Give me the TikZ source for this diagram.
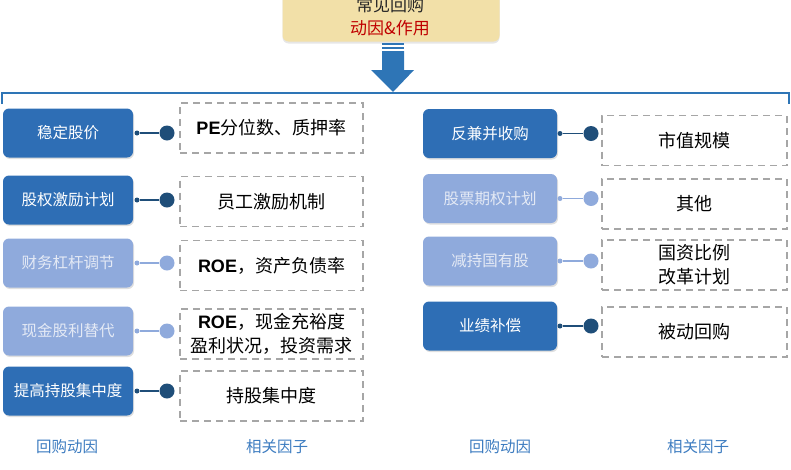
\documentclass[tikz,border=0pt]{standalone}
\usepackage{fontspec}
\setmainfont{Liberation Sans}
\newfontfamily\cjk{Noto Sans CJK SC}
\newfontfamily\lat{Liberation Sans}
\usetikzlibrary{shadows}
\definecolor{dkblue}{HTML}{2E6EB5}
\definecolor{ltblue}{HTML}{8FAADC}
\definecolor{dkdot}{HTML}{1F4E79}
\definecolor{ltdot}{HTML}{8FAADC}
\definecolor{lttxt}{HTML}{E4EAF5}
\definecolor{dashgray}{HTML}{A6A6A6}
\definecolor{arrowblue}{HTML}{2E75B6}
\definecolor{topfill}{HTML}{F2E0A8}
\definecolor{redtxt}{HTML}{C00000}
\definecolor{labblue}{HTML}{3D7CC0}
\tikzset{
  motiv/.style={rounded corners=6pt, minimum height=49pt, inner sep=0pt,
    font=\cjk\fontsize{15.5}{18}\selectfont,
    drop shadow={opacity=0.25, shadow xshift=1pt, shadow yshift=-1.5pt}},
  darkbox/.style={motiv, fill=dkblue, text=white},
  lightbox/.style={motiv, fill=ltblue, text=lttxt},
  factor/.style={draw=dashgray, dash pattern=on 7pt off 5pt, line width=1.4pt,
    minimum height=50pt, inner sep=0pt, align=center,
    font=\cjk\fontsize{18}{24}\selectfont},
  smalldk/.style={circle, fill=dkdot, minimum size=5pt, inner sep=0pt},
  bigdk/.style={circle, fill=dkdot, minimum size=15pt, inner sep=0pt},
  smalllt/.style={circle, fill=ltdot, minimum size=5pt, inner sep=0pt},
  biglt/.style={circle, fill=ltdot, minimum size=15pt, inner sep=0pt},
  conndk/.style={draw=dkdot, line width=1.3pt},
  connlt/.style={draw=ltdot, line width=1.3pt},
  collab/.style={text=labblue, font=\cjk\fontsize{15.5}{18}\selectfont},
}
\begin{document}
\begin{tikzpicture}[x=1pt,y=-1pt]
\useasboundingbox (0,0) rectangle (791,469);
% top box
\node[fill=topfill, rounded corners=6pt, minimum width=217pt, minimum height=54pt,
  drop shadow={opacity=0.2, shadow xshift=0pt, shadow yshift=-2pt}] (top) at (391,14.5) {};
\node[font=\cjk\fontsize{17}{19}\selectfont, text=black!85] (t1) at (390,5) {常见回购};
\node[font=\cjk\fontsize{17}{19}\selectfont, text=redtxt] (t2) at (390,28) {动因\&作用};
% arrow
\fill[arrowblue] (382,43) rectangle (404,45);
\fill[arrowblue] (382,47) rectangle (404,49);
\fill[arrowblue] (382,51) -- (404,51) -- (404,70) -- (414,70) -- (393,92) -- (371,70) -- (382,70) -- cycle;
% horizontal line
\draw[arrowblue, line width=1.6pt] (2,104) -- (2,93) -- (789,93) -- (789,104);
% left column
\node[darkbox, minimum width=130pt] (L1) at (68,133) {稳定股价};
\node[darkbox, minimum width=130pt] (L2) at (68,200) {股权激励计划};
\node[lightbox, minimum width=130pt] (L3) at (68,263) {财务杠杆调节};
\node[lightbox, minimum width=130pt] (L4) at (68,331) {现金股利替代};
\node[darkbox, minimum width=130pt] (L5) at (68,391) {提高持股集中度};
\node[factor, minimum width=183pt] (F1) at (271.5,128) {{\lat\bfseries PE}分位数、质押率};
\node[factor, minimum width=183pt] (F2) at (271.5,201.5) {员工激励机制};
\node[factor, minimum width=183pt] (F3) at (271.5,265.5) {{\lat\bfseries ROE}，资产负债率};
\node[factor, minimum width=183pt] (F4) at (271.5,334) {{\lat\bfseries ROE}，现金充裕度\\盈利状况，投资需求};
\node[factor, minimum width=183pt] (F5) at (271.5,396) {持股集中度};
\node[smalldk] (a1) at (137,133) {}; \node[bigdk] (b1) at (167,133) {};
\node[smalldk] (a2) at (137,200) {}; \node[bigdk] (b2) at (167,200) {};
\node[smalllt] (a3) at (137,263) {}; \node[biglt] (b3) at (167,263) {};
\node[smalllt] (a4) at (137,331) {}; \node[biglt] (b4) at (167,331) {};
\node[smalldk] (a5) at (137,391) {}; \node[bigdk] (b5) at (167,391) {};
\draw[conndk] (a1) -- (b1);
\draw[conndk] (a2) -- (b2);
\draw[connlt] (a3) -- (b3);
\draw[connlt] (a4) -- (b4);
\draw[conndk] (a5) -- (b5);
% right column
\node[darkbox, minimum width=134pt] (R1) at (490,133.5) {反兼并收购};
\node[lightbox, minimum width=134pt] (R2) at (490,198.5) {股票期权计划};
\node[lightbox, minimum width=134pt] (R3) at (490,261) {减持国有股};
\node[darkbox, minimum width=134pt] (R4) at (490,326) {业绩补偿};
\node[factor, minimum width=185pt] (G1) at (694.5,140.5) {市值规模};
\node[factor, minimum width=185pt] (G2) at (694.5,204) {其他};
\node[factor, minimum width=185pt] (G3) at (694.5,265) {国资比例\\改革计划};
\node[factor, minimum width=185pt] (G4) at (694.5,332) {被动回购};
\node[smalldk] (c1) at (560,133.5) {}; \node[bigdk] (e1) at (591,133.5) {};
\node[smalllt] (c2) at (560,198.5) {}; \node[biglt] (e2) at (591,198.5) {};
\node[smalllt] (c3) at (560,261) {}; \node[biglt] (e3) at (591,261) {};
\node[smalldk] (c4) at (560,326) {}; \node[bigdk] (e4) at (591,326) {};
\draw[conndk] (c1) -- (e1);
\draw[connlt] (c2) -- (e2);
\draw[connlt] (c3) -- (e3);
\draw[conndk] (c4) -- (e4);
% bottom labels
\node[collab] (lab1) at (67,447) {回购动因};
\node[collab] (lab2) at (277,447) {相关因子};
\node[collab] (lab3) at (500,447) {回购动因};
\node[collab] (lab4) at (698,447) {相关因子};
\end{tikzpicture}
\end{document}
